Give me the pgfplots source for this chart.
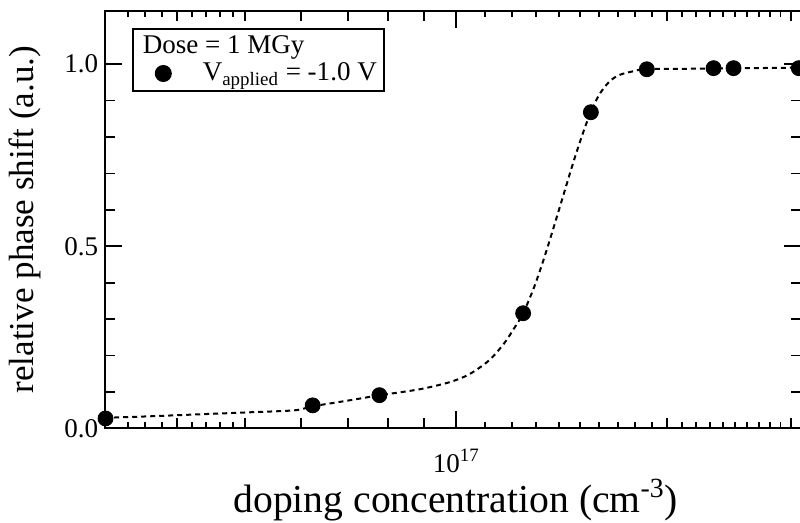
\documentclass[border=0pt]{standalone}
\usepackage{fontspec}
\setmainfont{Liberation Serif}
\usepackage{pgfplots}
\pgfplotsset{compat=1.18}
\begin{document}
\begin{tikzpicture}
\useasboundingbox (-52.5pt,-47pt) rectangle (347.2pt,214pt);
\begin{axis}[
  at={(0pt,0pt)}, anchor=south west,
  scale only axis, width=347.5pt, height=208.5pt,
  xmode=log, xmin=3.157e16, xmax=3.1e17,
  ymin=0, ymax=1.146,
  axis line style={line width=1.1pt},
  every tick/.style={black, line width=0.9pt},
  major tick length=8.5pt, minor tick length=5pt,
  xtick={1e17}, xticklabels={10\textsuperscript{17}},
  minor xtick={4e16,5e16,6e16,7e16,8e16,9e16,2e17,3e17},
  extra x ticks={3.4e16,3.6e16,3.8e16,4.2e16,4.4e16,4.6e16,4.8e16,1.1e17,1.2e17,1.3e17,1.4e17,1.5e17,1.6e17,1.7e17,1.8e17,1.9e17,2.1e17,2.2e17,2.3e17,2.4e17,2.5e17,2.6e17,2.7e17,2.8e17,2.9e17},
  extra x tick style={major tick length=3pt, xticklabel={}},
  extra x tick labels={},
  ytick={0,0.5,1}, yticklabels={0.0,0.5,1.0},
  minor y tick num=4,
  tick label style={font=\fontsize{13.5}{15}\selectfont},
  xticklabel style={yshift=-7pt},
  xlabel={doping concentration (cm\textsuperscript{-3})},
  ylabel={relative phase shift (a.u.)},
  xlabel style={font=\fontsize{19.8}{22}\selectfont, at={(axis description cs:0.504,0)}, anchor=center, yshift=-36pt},
  ylabel style={font=\fontsize{17.5}{20}\selectfont, at={(axis description cs:-0.1151,0.5)}, anchor=center},
  legend style={at={(axis description cs:0.0388,0.959)}, anchor=north west,
    draw=black, line width=1pt, font=\fontsize{13.5}{15}\selectfont,
    inner xsep=6.5pt, inner ysep=1.5pt, row sep=-1pt,
    /tikz/every odd column/.append style={column sep=14pt}},
  legend cell align=left,
]
\addplot[black, line width=1pt, dash pattern=on 2.5pt off 2pt, smooth, forget plot] coordinates {
(3.157e16,0.0288) (3.659e16,0.0330) (4.310e16,0.0385) (5.076e16,0.0440)
(5.884e16,0.0495) (6.239e16,0.0604) (7.044e16,0.0769) (7.772e16,0.0907)
(8.858e16,0.1071) (9.773e16,0.1264) (1.0435e17,0.1484) (1.1141e17,0.1868)
(1.1704e17,0.2335) (1.2093e17,0.2747) (1.2455e17,0.3159) (1.2912e17,0.3874)
(1.3341e17,0.4670) (1.3785e17,0.5549) (1.4243e17,0.6456) (1.4720e17,0.7363)
(1.5209e17,0.8187) (1.5560e17,0.8681) (1.5974e17,0.9148) (1.6506e17,0.9505)
(1.7058e17,0.9698) (1.7916e17,0.9808) (1.8695e17,0.9863) (2.2166e17,0.9876)
(2.6115e17,0.9890) (3.0745e17,0.9904) (3.1e17,0.9905)
};
\addlegendimage{empty legend}
\addlegendentry{\hspace*{-30pt}Dose = 1 MGy}
\addplot[only marks, mark=*, mark size=3.75pt, black] coordinates {
(3.16e16,0.027) (6.24e16,0.063) (7.77e16,0.091) (1.2455e17,0.316)
(1.556e17,0.868) (1.87e17,0.986) (2.328e17,0.989) (2.486e17,0.989)
(3.08e17,0.989)
};
\addlegendentry{V\textsubscript{applied} = -1.0 V\hspace*{-5pt}}
\end{axis}
\end{tikzpicture}
\end{document}
